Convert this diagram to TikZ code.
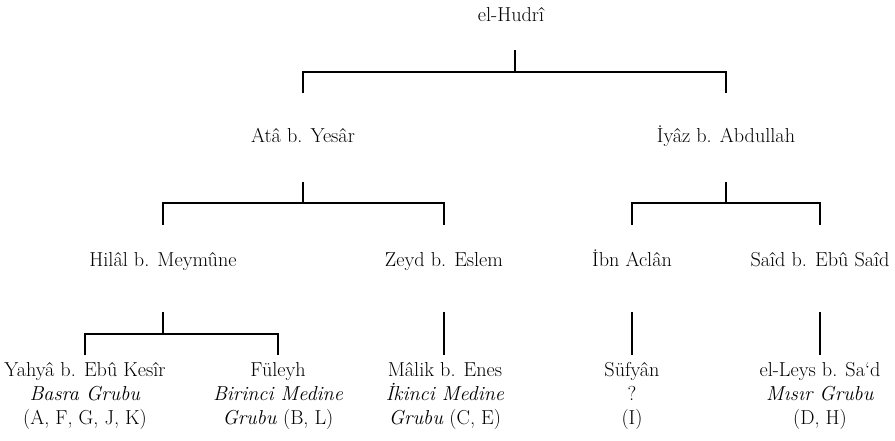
\documentclass[tikz,border=0pt]{standalone}
\usepackage{fontspec}
\begin{document}
\begin{tikzpicture}[x=1bp,y=-1bp,
  person/.style={anchor=base, align=center, inner sep=0pt, font=\fontsize{20.2bp}{24bp}\selectfont},
  link/.style={line width=1.9bp, line join=miter}]
\useasboundingbox (0,0) rectangle (895,441);
% nodes (multi-line nodes are anchored at the baseline of their last line)
\node[person] (hudri) at (511,22) {el-Hudrî};
\node[person] (ata) at (303,143) {Atâ b. Yesâr};
\node[person] (iyaz) at (726,143) {İyâz b. Abdullah};
\node[person] (hilal) at (163,267) {Hilâl b. Meymûne};
\node[person] (zeyd) at (444,267) {Zeyd b. Eslem};
\node[person] (aclan) at (632,267) {İbn Aclân};
\node[person] (said) at (820,267) {Saîd b. Ebû Saîd};
\node[person] (yahya) at (85,424) {Yahyâ b. Ebû Kesîr\\\textit{Basra Grubu}\\(A, F, G, J, K)};
\node[person] (fuleyh) at (278,424) {Füleyh\\\textit{Birinci Medine}\\\textit{Grubu} (B, L)};
\node[person] (malik) at (445,424) {Mâlik b. Enes\\\textit{İkinci Medine}\\\textit{Grubu} (C, E)};
\node[person] (sufyan) at (632,424) {Süfyân\\?\\(I)};
\node[person] (leys) at (820,424) {el-Leys b. Sa‘d\\\textit{Mısır Grubu}\\(D, H)};
% level heights
\coordinate (a1) at (0,50);  \coordinate (b1) at (0,72);  \coordinate (c1) at (0,93);
\coordinate (a2) at (0,182); \coordinate (b2) at (0,203); \coordinate (c2) at (0,225);
\coordinate (a3) at (0,312); \coordinate (b3) at (0,334); \coordinate (c3) at (0,355);
\coordinate (m1) at (515,0);
% connectors level 1
\draw[link] (m1 |- a1) -- (m1 |- b1);
\draw[link] (ata |- c1) -- (ata |- b1) -- (iyaz |- b1) -- (iyaz |- c1);
% level 2
\draw[link] (ata |- a2) -- (ata |- b2);
\draw[link] (hilal |- c2) -- (hilal |- b2) -- (zeyd |- b2) -- (zeyd |- c2);
\draw[link] (iyaz |- a2) -- (iyaz |- b2);
\draw[link] (aclan |- c2) -- (aclan |- b2) -- (said |- b2) -- (said |- c2);
% level 3
\draw[link] (hilal |- a3) -- (hilal |- b3);
\draw[link] (yahya |- c3) -- (yahya |- b3) -- (fuleyh |- b3) -- (fuleyh |- c3);
\draw[link] (zeyd |- a3) -- (zeyd |- c3);
\draw[link] (aclan |- a3) -- (aclan |- c3);
\draw[link] (said |- a3) -- (said |- c3);
\end{tikzpicture}
\end{document}
